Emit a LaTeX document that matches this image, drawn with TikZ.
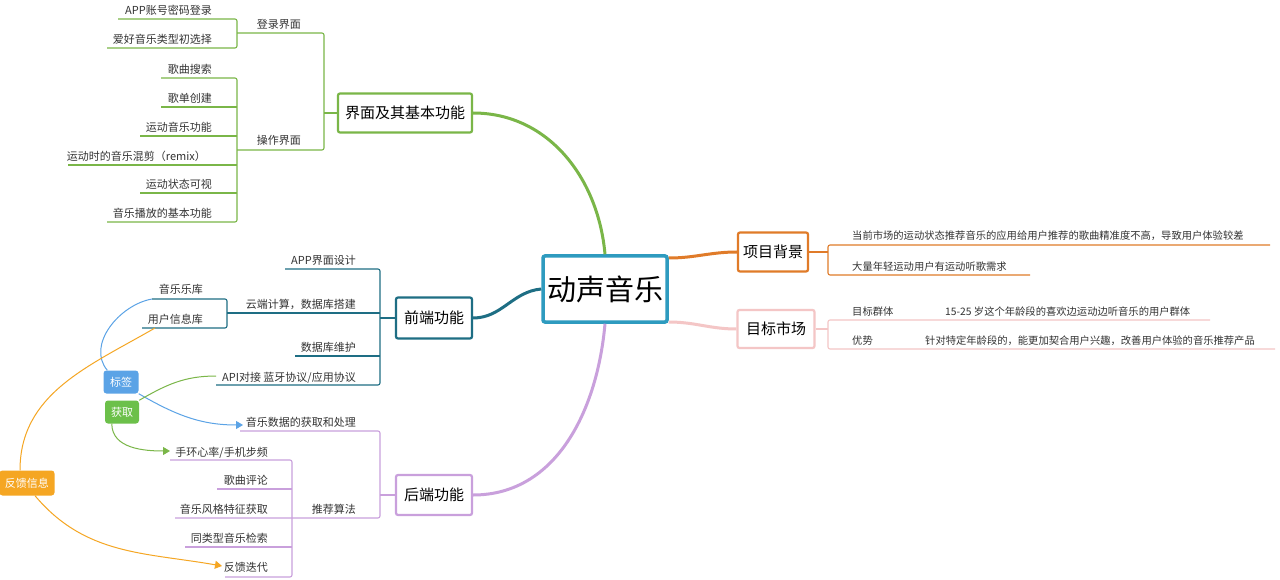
\documentclass[tikz,border=0pt]{standalone}
\usepackage{fontspec}
\setmainfont{Noto Sans CJK SC}
\usetikzlibrary{arrows.meta}
\definecolor{cteal}{HTML}{2E9BBF}
\definecolor{cgreen}{HTML}{7AB648}
\definecolor{cdark}{HTML}{1E6E84}
\definecolor{clilac}{HTML}{C9A0DC}
\definecolor{corange}{HTML}{E07B29}
\definecolor{cpink}{HTML}{F4C6C6}
\definecolor{cblue}{HTML}{5BA3E6}
\definecolor{cgtag}{HTML}{6CC04A}
\definecolor{cotag}{HTML}{F5A623}
\tikzset{
  topic/.style={draw=#1, line width=2.2pt, rounded corners=2pt, fill=white, inner sep=0pt, font=\fontsize{15}{17}\selectfont},
  leaf/.style={anchor=base east, inner sep=0pt, font=\fontsize{11}{13}\selectfont, text=black!80},
  rleaf/.style={anchor=base west, inner sep=0pt, font=\fontsize{10.3}{12}\selectfont, text=black!80},
  tag/.style={fill=#1, rounded corners=3pt, text=white, inner sep=0pt, font=\fontsize{11}{13}\selectfont},
  branch/.style={draw=#1, line width=1.1pt, rounded corners=2pt},
  link/.style={draw=#1, line width=1pt, -{Triangle[length=7pt,width=8pt]}}
}
\begin{document}
\begin{tikzpicture}[x=1pt,y=-1pt]
\useasboundingbox[fill=white] (0,0) rectangle (1280,580);

% main topics
\node[topic=cteal, line width=3.5pt, minimum width=124pt, minimum height=66pt, font=\fontsize{29}{32}\selectfont] (root) at (605,289) {动声音乐};
\node[topic=cgreen, minimum width=134pt, minimum height=39pt] (ui) at (405,113) {界面及其基本功能};
\node[topic=cdark, minimum width=76pt, minimum height=41pt] (front) at (434,318) {前端功能};
\node[topic=clilac, minimum width=76pt, minimum height=40pt] (back) at (434,495) {后端功能};
\node[topic=corange, minimum width=70pt, minimum height=39pt] (bg) at (773,252) {项目背景};
\node[topic=cpink, minimum width=77pt, minimum height=38pt] (mkt) at (776,329) {目标市场};

\draw[cgreen, line width=3pt] (root.north) to[out=95,in=0] (ui.east);
\draw[cdark, line width=3pt] (root.west) to[out=185,in=0] (front.east);
\draw[clilac, line width=3pt] (root.south) to[out=-95,in=0] (back.east);
\draw[corange, line width=3pt] (root.east |- 0,258) to[out=0,in=180] (bg.west);
\draw[cpink, line width=3pt] (root.east |- 0,322) to[out=0,in=180] (mkt.west);

% interface branch
\draw[branch=cgreen] (ui.west) -- (324,113);
\draw[branch=cgreen] (237,33) -| (324,150) -- (237,150);
\node[leaf] (login) at (301,29) {登录界面};
\node[leaf] (oper) at (301,145) {操作界面};
\draw[branch=cgreen] (118,19) -| (237,48) -- (107,48);
\node[leaf] (u1) at (212,15) {APP账号密码登录};
\node[leaf] (u2) at (212,44) {爱好音乐类型初选择};
\draw[branch=cgreen] (161,78) -| (237,222) -- (107,222);
\draw[branch=cgreen] (161,107) -- (237,107);
\draw[branch=cgreen] (140,136) -- (237,136);
\draw[branch=cgreen] (68,165) -- (237,165);
\draw[branch=cgreen] (140,193) -- (237,193);
\node[leaf] (u3) at (212,74) {歌曲搜索};
\node[leaf] (u4) at (212,103) {歌单创建};
\node[leaf] (u5) at (212,132) {运动音乐功能};
\node[leaf] (u6) at (206,161) {运动时的音乐混剪（remix）};
\node[leaf] (u7) at (212,189) {运动状态可视};
\node[leaf] (u8) at (212,218) {音乐播放的基本功能};

% front-end branch
\draw[branch=cdark] (front.west) -- (380,318);
\draw[branch=cdark] (285,269) -| (380,385) -- (216,385);
\draw[branch=cdark] (227,313) -- (380,313);
\draw[branch=cdark] (295,356) -- (380,356);
\node[leaf] (f1) at (356,265) {APP界面设计};
\node[leaf] (f2) at (356,308) {云端计算，数据库搭建};
\node[leaf] (f3) at (356,351) {数据库维护};
\node[leaf] (f4) at (356,381) {API对接 蓝牙协议/应用协议};
\draw[branch=cdark] (152,299) -| (227,328) -- (142,328);
\node[leaf] (f5) at (203,294) {音乐乐库};
\node[leaf] (f6) at (203,323) {用户信息库};

% back-end branch
\draw[branch=clilac] (back.west) -- (380,495);
\draw[branch=clilac] (240,431) -| (380,518) -- (175,518);
\node[leaf] (b1) at (356,426) {音乐数据的获取和处理};
\node[leaf] (b2) at (356,513) {推荐算法};
\draw[branch=clilac] (170,460) -| (292,577) -- (225,577);
\draw[branch=clilac] (217,489) -- (292,489);
\draw[branch=clilac] (185,547) -- (292,547);
\node[leaf] (b3) at (268,456) {手环心率/手机步频};
\node[leaf] (b4) at (268,484) {歌曲评论};
\node[leaf] (b5) at (268,513) {音乐风格特征获取};
\node[leaf] (b6) at (268,542) {同类型音乐检索};
\node[leaf] (b7) at (268,571) {反馈迭代};

% background branch
\draw[branch=corange] (bg.east) -- (828,252);
\draw[branch=corange] (1270,245) -- (828,245) -- (828,275) -- (1030,275);
\node[rleaf] (g1) at (852,240) {当前市场的运动状态推荐音乐的应用给用户推荐的歌曲精准度不高，导致用户体验较差};
\node[rleaf] (g2) at (852,270) {大量年轻运动用户有运动听歌需求};

% market branch
\draw[branch=cpink] (mkt.east) -- (828,329);
\draw[branch=cpink] (1210,320) -- (828,320) -- (828,349) -- (1275,349);
\node[rleaf] (m1) at (852,315) {目标群体};
\node[rleaf] (m2) at (945,315) {15-25 岁这个年龄段的喜欢边运动边听音乐的用户群体};
\node[rleaf] (m3) at (852,344) {优势};
\node[rleaf] (m4) at (925,344) {针对特定年龄段的，能更加契合用户兴趣，改善用户体验的音乐推荐产品};

% tags
\node[tag=cblue, minimum width=35pt, minimum height=23pt] (label) at (121,382) {标签};
\node[tag=cgtag, minimum width=34pt, minimum height=23pt] (fetch) at (122,412) {获取};
\node[tag=cotag, minimum width=55pt, minimum height=25pt] (fb) at (27,483) {反馈信息};

\draw[cblue, line width=1pt] (label.north west) ++(4,0) to[out=130,in=190] (152,299);
\draw[link=cblue] (label.south east) to[out=-30,in=180] (243,425);
\draw[cgreen, line width=1pt] (fetch.north east) to[out=30,in=180] (216,376);
\draw[link=cgreen] (fetch.south west) ++(7,0) to[out=-90,in=180] (170,451);
\draw[cotag, line width=1pt] (fb.north) ++(-7,0) to[out=90,in=210] (155,328);
\draw[link=cotag] (fb.south) ++(8,0) to[out=-50,in=170] (222,566);
\end{tikzpicture}
\end{document}
